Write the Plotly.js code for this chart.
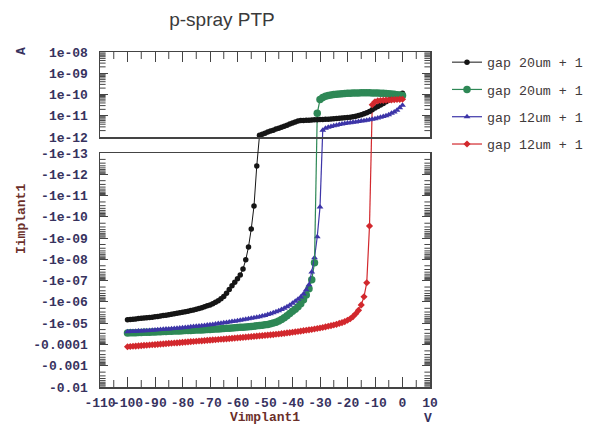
<!DOCTYPE html>
<html><head><meta charset="utf-8">
<script src="https://cdn.plot.ly/plotly-3.0.1.min.js"></script>
<style>html,body{margin:0;padding:0;background:#fff;}#chart{width:590px;height:425px;}</style>
</head><body><div id="chart"></div>
<script>
// ---------- data ----------
const vImplant = [0,-1,-2,-3,-4,-5,-6,-7,-8,-9,
 -10,-11,-12,-13,-14,-15,-16,-17,-18,-19,
 -20,-21,-22,-23,-24,-25,-26,-27,-28,-29,
 -30,-31,-32,-33,-34,-35,-36,-37,-38,-39,
 -40,-41,-42,-43,-44,-45,-46,-47,-48,-49,
 -50,-51,-52,-53,-54,-55,-56,-57,-58,-59,
 -60,-61,-62,-63,-64,-65,-66,-67,-68,-69,
 -70,-71,-72,-73,-74,-75,-76,-77,-78,-79,
 -80,-81,-82,-83,-84,-85,-86,-87,-88,-89,
 -90,-91,-92,-93,-94,-95,-96,-97,-98,-99,
 -100];

const iGap20a = [1.15e-10,1.0e-10,8.7e-11,7.5e-11,6.3e-11,5.3e-11,4.5e-11,3.8e-11,3.2e-11,2.7e-11,
 2.3e-11,1.9e-11,1.6e-11,1.4e-11,1.25e-11,1.12e-11,1.02e-11,9.5e-12,9.0e-12,8.6e-12,
 8.3e-12,8.0e-12,7.8e-12,7.6e-12,7.4e-12,7.2e-12,7.0e-12,6.9e-12,6.8e-12,6.7e-12,
 6.6e-12,6.5e-12,6.4e-12,6.3e-12,6.2e-12,6.1e-12,6.0e-12,5.9e-12,5.6e-12,5.1e-12,
 4.6e-12,4.1e-12,3.6e-12,3.2e-12,2.9e-12,2.6e-12,2.35e-12,2.1e-12,1.9e-12,1.7e-12,
 1.5e-12,1.35e-12,1.2e-12,-4.1e-13,-3.1e-11,-3.7e-10,-2.6e-9,-1.05e-8,-2.8e-8,-5.4e-8,
 -8.2e-8,-1.2e-7,-1.75e-7,-2.6e-7,-3.9e-7,-5.5e-7,-7.2e-7,-8.8e-7,-1.05e-6,-1.22e-6,
 -1.38e-6,-1.53e-6,-1.7e-6,-1.87e-6,-2.03e-6,-2.2e-6,-2.37e-6,-2.55e-6,-2.73e-6,-2.9e-6,
 -3.1e-6,-3.25e-6,-3.4e-6,-3.6e-6,-3.8e-6,-4.0e-6,-4.2e-6,-4.4e-6,-4.6e-6,-4.8e-6,
 -5.0e-6,-5.2e-6,-5.4e-6,-5.6e-6,-5.75e-6,-5.9e-6,-6.1e-6,-6.3e-6,-6.5e-6,-6.7e-6,
 -6.9e-6];

const iGap20b = [9.0e-11,9.4e-11,9.8e-11,1.02e-10,1.06e-10,1.09e-10,1.12e-10,1.14e-10,1.16e-10,1.17e-10,
 1.18e-10,1.19e-10,1.2e-10,1.2e-10,1.2e-10,1.2e-10,1.19e-10,1.18e-10,1.17e-10,1.16e-10,
 1.14e-10,1.12e-10,1.09e-10,1.06e-10,1.03e-10,9.9e-11,9.4e-11,8.9e-11,8.2e-11,7.3e-11,
 5.8e-11,1.3e-11,-1.45e-8,-9.1e-8,-2.4e-7,-4.7e-7,-7.9e-7,-1.23e-6,-1.7e-6,-2.2e-6,
 -2.76e-6,-3.5e-6,-4.5e-6,-5.6e-6,-6.8e-6,-7.9e-6,-9.0e-6,-9.9e-6,-1.07e-5,-1.14e-5,
 -1.2e-5,-1.25e-5,-1.29e-5,-1.33e-5,-1.39e-5,-1.45e-5,-1.48e-5,-1.51e-5,-1.54e-5,-1.57e-5,
 -1.61e-5,-1.64e-5,-1.68e-5,-1.72e-5,-1.75e-5,-1.79e-5,-1.83e-5,-1.87e-5,-1.89e-5,-1.93e-5,
 -1.98e-5,-2.0e-5,-2.04e-5,-2.07e-5,-2.09e-5,-2.11e-5,-2.14e-5,-2.18e-5,-2.2e-5,-2.23e-5,
 -2.28e-5,-2.3e-5,-2.33e-5,-2.35e-5,-2.4e-5,-2.42e-5,-2.45e-5,-2.48e-5,-2.53e-5,-2.56e-5,
 -2.58e-5,-2.61e-5,-2.64e-5,-2.67e-5,-2.7e-5,-2.73e-5,-2.76e-5,-2.79e-5,-2.82e-5,-2.85e-5,
 -2.88e-5];

const iGap12a = [3.1e-11,2.4e-11,1.8e-11,1.5e-11,1.3e-11,1.12e-11,1.0e-11,9.2e-12,8.5e-12,7.9e-12,
 7.3e-12,6.9e-12,6.5e-12,6.1e-12,5.8e-12,5.6e-12,5.3e-12,5.1e-12,4.9e-12,4.7e-12,
 4.5e-12,4.3e-12,4.1e-12,3.9e-12,3.6e-12,3.4e-12,3.1e-12,2.9e-12,2.6e-12,2.1e-12,
 -3.5e-11,-8.7e-10,-8.5e-9,-3.9e-8,-1.58e-7,-2.7e-7,-4.2e-7,-5.8e-7,-7.6e-7,-9.4e-7,
 -1.17e-6,-1.45e-6,-1.7e-6,-2.0e-6,-2.3e-6,-2.6e-6,-2.9e-6,-3.25e-6,-3.6e-6,-3.95e-6,
 -4.3e-6,-4.6e-6,-4.95e-6,-5.3e-6,-5.6e-6,-5.9e-6,-6.2e-6,-6.5e-6,-6.9e-6,-7.3e-6,
 -7.7e-6,-8.1e-6,-8.4e-6,-8.8e-6,-9.2e-6,-9.6e-6,-1.0e-5,-1.04e-5,-1.09e-5,-1.14e-5,
 -1.19e-5,-1.23e-5,-1.27e-5,-1.31e-5,-1.36e-5,-1.4e-5,-1.45e-5,-1.49e-5,-1.54e-5,-1.59e-5,
 -1.64e-5,-1.68e-5,-1.73e-5,-1.77e-5,-1.82e-5,-1.86e-5,-1.9e-5,-1.95e-5,-2.0e-5,-2.04e-5,
 -2.1e-5,-2.15e-5,-2.2e-5,-2.25e-5,-2.28e-5,-2.32e-5,-2.36e-5,-2.4e-5,-2.44e-5,-2.48e-5,
 -2.53e-5];

const iGap12b = [6.0e-11,5.9e-11,5.8e-11,5.7e-11,5.6e-11,5.5e-11,5.4e-11,5.3e-11,5.2e-11,5.0e-11,
 4.5e-11,3.3e-11,-2.7e-10,-1.26e-7,-5.7e-7,-1.38e-6,-2.48e-6,-3.6e-6,-4.9e-6,-6.2e-6,
 -7.3e-6,-8.4e-6,-9.4e-6,-1.03e-5,-1.13e-5,-1.22e-5,-1.31e-5,-1.4e-5,-1.49e-5,-1.59e-5,
 -1.68e-5,-1.77e-5,-1.87e-5,-1.98e-5,-2.06e-5,-2.15e-5,-2.25e-5,-2.35e-5,-2.45e-5,-2.56e-5,
 -2.67e-5,-2.78e-5,-2.88e-5,-2.99e-5,-3.11e-5,-3.21e-5,-3.32e-5,-3.43e-5,-3.54e-5,-3.64e-5,
 -3.74e-5,-3.85e-5,-3.95e-5,-4.06e-5,-4.18e-5,-4.31e-5,-4.42e-5,-4.54e-5,-4.66e-5,-4.78e-5,
 -4.9e-5,-5.02e-5,-5.15e-5,-5.3e-5,-5.43e-5,-5.57e-5,-5.71e-5,-5.85e-5,-6.0e-5,-6.14e-5,
 -6.29e-5,-6.43e-5,-6.59e-5,-6.75e-5,-6.9e-5,-7.08e-5,-7.24e-5,-7.41e-5,-7.59e-5,-7.78e-5,
 -7.96e-5,-8.17e-5,-8.36e-5,-8.55e-5,-8.77e-5,-8.97e-5,-9.18e-5,-9.42e-5,-9.64e-5,-9.86e-5,
 -1.01e-4,-1.035e-4,-1.06e-4,-1.086e-4,-1.11e-4,-1.14e-4,-1.165e-4,-1.19e-4,-1.22e-4,-1.25e-4,
 -1.28e-4];

const seriesNames = ["gap 20um + 1","gap 20um + 1","gap 12um + 1","gap 12um + 1"];

const xTickVals = [-110,-100,-90,-80,-70,-60,-50,-40,-30,-20,-10,0,10];
const xTickText = ["-110","-100","-90","-80","-70","-60","-50","-40","-30","-20","-10","0","10"];
const xMinorVals = [-105,-95,-85,-75,-65,-55,-45,-35,-25,-15,-5,5];
const yTopTickVals = [1e-12,1e-11,1e-10,1e-9,1e-8];
const yTopTickText = ["1e-12","1e-11","1e-10","1e-09","1e-08"];
const yBotTickVals = [1e-13,1e-12,1e-11,1e-10,1e-9,1e-8,1e-7,1e-6,1e-5,1e-4,1e-3,1e-2];
const yBotTickText = ["-1e-13","-1e-12","-1e-11","-1e-10","-1e-09","-1e-08","-1e-07","-1e-06","-1e-05","-0.0001","-0.001","-0.01"];

// ---------- layout geometry ----------
const W = 590, H = 425, mL = 100, mR = 160, mT = 52, mB = 38;
const plotW = W - mL - mR;               // 330
const plotH = H - mT - mB;               // 335
const botTop = 234 / plotH;              // bottom panel: -0.01 .. -1e-13
const topBot = 250 / plotH;              // top panel: 1e-12 .. 1e-8
const topRange = [-12, -8];
const botRange = [-2, -13];
const xRange = [-110, 10];

// position of a signed current on the full-height helper axis (same scale as the two log panels)
function toPaper(I) {
  if (I > 0) {
    const L = Math.log10(I);
    return topBot + (L - topRange[0]) / (topRange[1] - topRange[0]) * (1 - topBot);
  }
  const L = Math.log10(-I);
  return (L - botRange[0]) / (botRange[1] - botRange[0]) * botTop;
}

const styles = [
  {color: "#151515", symbol: "circle", size: 5.5, lw: 1},
  {color: "#2e8856", symbol: "circle", size: 7.5, lw: 1.2},
  {color: "#3d35a8", symbol: "triangle-up", size: 6, lw: 1.2},
  {color: "#d2282d", symbol: "diamond", size: 5.5, lw: 1.2}
];
const currents = [iGap20a, iGap20b, iGap12a, iGap12b];
const axCol = "#444";

const traces = [];

// minor tick marks: short line symbols sitting on the frame edges (half is clipped by the plot area)
function decadeMinor(k0, k1) {
  const out = [];
  for (let k = k0; k <= k1; k++) for (let d = 2; d <= 9; d++) out.push(d * Math.pow(10, k));
  return out;
}
function tickTrace(xa, ya, xs, ys, symbol, size) {
  return {x: xs, y: ys, xaxis: xa, yaxis: ya, mode: "markers", cliponaxis: true,
    marker: {symbol: symbol, size: size, color: axCol, line: {color: axCol, width: 1}},
    showlegend: false, hoverinfo: "skip"};
}
[["x", "y", decadeMinor(-13, -3)], ["x2", "y2", decadeMinor(-12, -9)]].forEach(([xa, ya, vals]) => {
  traces.push(tickTrace(xa, ya, vals.map(() => xRange[0]), vals, "line-ew", 8));
  traces.push(tickTrace(xa, ya, vals.map(() => xRange[1]), vals, "line-ew", 8));
});
traces.push(tickTrace("x", "y", xMinorVals, xMinorVals.map(() => Math.pow(10, botRange[0])), "line-ns", 10));
traces.push(tickTrace("x2", "y2", xMinorVals, xMinorVals.map(() => Math.pow(10, topRange[1])), "line-ns", 10));

currents.forEach((I, s) => {
  const st = styles[s];
  const grp = "g" + s;
  const tx = [], ty = [], bx = [], by = [], cx = [], cy = [];
  for (let i = 0; i < I.length; i++) {
    if (I[i] > 0) { tx.push(vImplant[i]); ty.push(I[i]); }
    else { bx.push(vImplant[i]); by.push(-I[i]); }
    if (i + 1 < I.length && (I[i] > 0) !== (I[i + 1] > 0)) {
      cx.push(vImplant[i], vImplant[i + 1], null);
      cy.push(toPaper(I[i]), toPaper(I[i + 1]), null);
    }
  }
  traces.push({x: cx, y: cy, xaxis: "x", yaxis: "y3", mode: "lines",
    line: {color: st.color, width: st.lw}, showlegend: false, legendgroup: grp, hoverinfo: "skip"});
  traces.push({x: tx, y: ty, xaxis: "x2", yaxis: "y2", mode: "lines+markers", name: seriesNames[s],
    line: {color: st.color, width: st.lw}, marker: {color: st.color, size: st.size, symbol: st.symbol},
    showlegend: false, legendgroup: grp});
  traces.push({x: bx, y: by, xaxis: "x", yaxis: "y", mode: "lines+markers", name: seriesNames[s],
    line: {color: st.color, width: st.lw}, marker: {color: st.color, size: st.size, symbol: st.symbol},
    showlegend: true, legendgroup: grp});
});

const tickFont = {family: "Liberation Mono", size: 13, color: "#37325e", weight: "bold"};
const yCommon = {type: "log", tickmode: "array", ticks: "inside", ticklen: 8, tickwidth: 1, tickcolor: axCol,
  showline: true, linecolor: axCol, linewidth: 1.5, mirror: "ticks", showgrid: false, zeroline: false,
  tickfont: tickFont, ticklabelstandoff: 8, fixedrange: true};
const xCommon = {range: xRange, tickmode: "array", tickvals: xTickVals, ticktext: xTickText,
  ticks: "inside", ticklen: 10, tickwidth: 1, tickcolor: axCol,
  showline: true, linecolor: axCol, linewidth: 1.5, mirror: true, showgrid: false, zeroline: false,
  tickangle: 0, fixedrange: true};

const layout = {
  width: W, height: H,
  margin: {l: mL, r: mR, t: mT, b: mB, autoexpand: false},
  paper_bgcolor: "#ffffff", plot_bgcolor: "rgba(0,0,0,0)",
  title: {text: "p-spray PTP", font: {family: "Liberation Sans", size: 19, color: "#3a3a3a"},
    xref: "container", x: 222 / W, xanchor: "center", yref: "container", y: 1 - 19 / H, yanchor: "middle"},
  xaxis: Object.assign({}, xCommon, {domain: [0, 1], anchor: "y", tickfont: tickFont, ticklabelstandoff: 3,
    title: {text: "Vimplant1", font: {family: "Liberation Mono", size: 13, color: "#6b2f2a", weight: "bold"}, standoff: 3}}),
  xaxis2: Object.assign({}, xCommon, {domain: [0, 1], anchor: "y2", side: "top", showticklabels: false}),
  yaxis: Object.assign({}, yCommon, {domain: [0, botTop], anchor: "x", range: botRange,
    tickvals: yBotTickVals, ticktext: yBotTickText}),
  yaxis2: Object.assign({}, yCommon, {domain: [topBot, 1], anchor: "x2", range: topRange,
    tickvals: yTopTickVals, ticktext: yTopTickText}),
  yaxis3: {domain: [0, 1], anchor: "x", range: [0, 1], visible: false, fixedrange: true},
  showlegend: true,
  legend: {x: (447 - mL) / plotW, xanchor: "left", y: 1 + 5 / plotH, yanchor: "top", tracegroupgap: 7,
    font: {family: "Liberation Mono", size: 13.3, color: "#3f3a3a"}, bgcolor: "rgba(0,0,0,0)"},
  annotations: [
    {text: "Iimplant1", xref: "paper", yref: "paper", x: (21 - mL) / plotW, y: (387 - 219) / plotH,
      textangle: -90, showarrow: false, xanchor: "center", yanchor: "middle",
      font: {family: "Liberation Mono", size: 13, color: "#6b2f2a", weight: "bold"}},
    {text: "A", xref: "paper", yref: "paper", x: (21 - mL) / plotW, y: (387 - 51) / plotH,
      textangle: -90, showarrow: false, xanchor: "center", yanchor: "middle",
      font: {family: "Liberation Mono", size: 13, color: "#37325e", weight: "bold"}},
    {text: "V", xref: "paper", yref: "paper", x: (428 - mL) / plotW, y: (387 - 418) / plotH,
      showarrow: false, xanchor: "center", yanchor: "middle",
      font: {family: "Liberation Mono", size: 13, color: "#37325e", weight: "bold"}}
  ]
};

Plotly.newPlot("chart", traces, layout, {displayModeBar: false, staticPlot: true});
</script>
</body></html>
